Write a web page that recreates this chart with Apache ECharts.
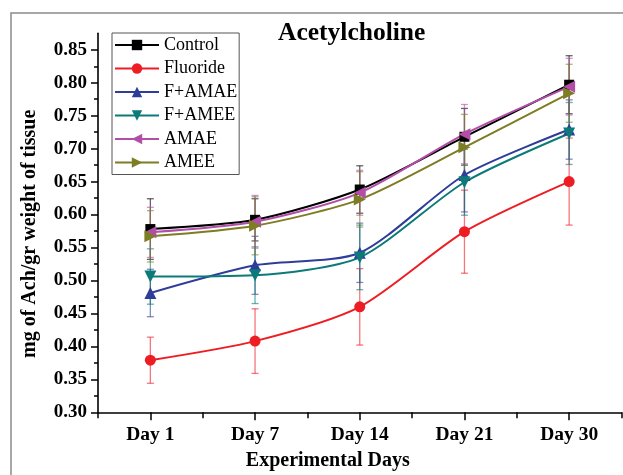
<!DOCTYPE html>
<html>
<head>
<meta charset="utf-8">
<script src="https://cdn.jsdelivr.net/npm/echarts@6/dist/echarts.min.js"></script>
<style>
html,body{margin:0;padding:0;background:#fff;}
#chart{width:623px;height:475px;}
</style>
</head>
<body>
<div id="chart"></div>
<script>
// ---- data ----
const categories = ['Day 1', 'Day 7', 'Day 14', 'Day 21', 'Day 30'];
const yTicks = [0.30, 0.35, 0.40, 0.45, 0.50, 0.55, 0.60, 0.65, 0.70, 0.75, 0.80, 0.85];
const seriesNames = ['Control', 'Fluoride', 'F+AMAE', 'F+AMEE', 'AMAE', 'AMEE'];
const control     = [0.578, 0.592, 0.638, 0.718, 0.797];
const controlErr  = [0.046, 0.032, 0.036, 0.043, 0.044];
const fluoride    = [0.379, 0.408, 0.460, 0.574, 0.650];
const fluorideErr = [0.035, 0.049, 0.058, 0.063, 0.066];
const fAmae       = [0.481, 0.523, 0.542, 0.660, 0.729];
const fAmaeErr    = [0.036, 0.044, 0.045, 0.056, 0.045];
const fAmee       = [0.506, 0.508, 0.535, 0.649, 0.723];
const fAmeeErr    = [0.042, 0.043, 0.049, 0.050, 0.047];
const amae        = [0.573, 0.589, 0.633, 0.722, 0.794];
const amaeErr     = [0.038, 0.040, 0.034, 0.045, 0.043];
const amee        = [0.567, 0.583, 0.623, 0.702, 0.784];
const ameeErr     = [0.039, 0.044, 0.042, 0.050, 0.044];

// ---- styling ----
const values = [control, fluoride, fAmae, fAmee, amae, amee];
const errors = [controlErr, fluorideErr, fAmaeErr, fAmeeErr, amaeErr, ameeErr];
const colors = ['#000000', '#EE1D23', '#2E3D98', '#0B7A78', '#B24EA8', '#7D7D24'];
const symbols = [
  'rect',
  'circle',
  'path://M5,0L10,10L0,10Z',
  'path://M0,0L10,0L5,10Z',
  'path://M0,5L10,0L10,10Z',
  'path://M0,0L10,5L0,10Z'
];
const symbolSizes = [10, 11, 12, 12, 12, 12];
const serif = '"Liberation Serif", "Times New Roman", serif';
const yMinorTicks = yTicks.slice(0, -1).map(v => +(v + 0.025).toFixed(3));

const chart = echarts.init(document.getElementById('chart'), null, {renderer: 'canvas'});

const series = [];
// error bars (drawn first, beneath)
values.forEach((vals, i) => {
  series.push({
    type: 'custom',
    name: seriesNames[i] + ' err',
    xAxisIndex: 0,
    yAxisIndex: 0,
    z: 1,
    silent: true,
    data: vals.map((v, k) => [k, v - errors[i][k], v + errors[i][k]]),
    renderItem: function (params, api) {
      const lo = api.coord([api.value(0), api.value(1)]);
      const hi = api.coord([api.value(0), api.value(2)]);
      const w = 3.5;
      const style = {stroke: colors[i], lineWidth: 1.3, opacity: 0.6};
      return {
        type: 'group',
        children: [
          {type: 'line', shape: {x1: lo[0], y1: lo[1], x2: hi[0], y2: hi[1]}, style: style},
          {type: 'line', shape: {x1: lo[0] - w, y1: lo[1], x2: lo[0] + w, y2: lo[1]}, style: style},
          {type: 'line', shape: {x1: hi[0] - w, y1: hi[1], x2: hi[0] + w, y2: hi[1]}, style: style}
        ]
      };
    }
  });
});
values.forEach((vals, i) => {
  series.push({
    type: 'line',
    name: seriesNames[i],
    data: vals,
    smooth: 0.25,
    z: 3,
    symbol: symbols[i],
    symbolSize: symbolSizes[i],
    showAllSymbol: true,
    itemStyle: {color: colors[i]},
    lineStyle: {color: colors[i], width: 2},
    emphasis: {disabled: true}
  });
});

chart.setOption({
  animation: false,
  backgroundColor: '#ffffff',
  title: {
    text: 'Acetylcholine',
    left: 278,
    top: 20,
    padding: 0,
    textStyle: {fontFamily: serif, fontSize: 25.5, fontWeight: 'bold', color: '#000'}
  },
  legend: {
    data: seriesNames,
    orient: 'vertical',
    left: 112,
    top: 33,
    padding: [3, 2, 3, 2],
    itemGap: 5.5,
    itemWidth: 44,
    itemHeight: 13,
    borderColor: '#555',
    borderWidth: 1,
    textStyle: {fontFamily: serif, fontSize: 18, color: '#000', lineHeight: 18}
  },
  grid: {
    left: 98,
    right: 1.5,
    top: 33.3,
    bottom: 62.7,
    containLabel: false,
    outerBoundsMode: 'none'
  },
  xAxis: [
    {
      type: 'category',
      data: categories,
      boundaryGap: true,
      name: 'Experimental Days',
      nameLocation: 'middle',
      nameGap: 39,
      nameTextStyle: {fontFamily: serif, fontSize: 20, fontWeight: 'bold', color: '#000', padding: [0, 64, 0, 0]},
      axisLine: {show: true, lineStyle: {color: '#000', width: 1.6}},
      axisTick: {show: true, alignWithLabel: true, inside: false, length: 8, lineStyle: {color: '#000', width: 1.5}},
      axisLabel: {fontFamily: serif, fontSize: 19.5, fontWeight: 'bold', color: '#000', margin: 13},
      splitLine: {show: false}
    },
    {
      type: 'category',
      data: categories,
      boundaryGap: true,
      position: 'bottom',
      axisLine: {show: false},
      axisTick: {show: true, alignWithLabel: false, length: 6, lineStyle: {color: '#000', width: 1.5}},
      axisLabel: {show: false},
      splitLine: {show: false}
    }
  ],
  yAxis: [
    {
      type: 'value',
      min: 0.30,
      max: 0.875,
      name: 'mg of Ach/gr weight of tissue',
      nameLocation: 'middle',
      nameRotate: 90,
      nameGap: 58,
      nameTextStyle: {fontFamily: serif, fontSize: 20, fontWeight: 'bold', color: '#000', padding: [0, 22, 0, 0]},
      axisLine: {show: true, lineStyle: {color: '#000', width: 1.6}},
      axisTick: {show: true, length: 7, customValues: yTicks, lineStyle: {color: '#000', width: 1.5}},
      axisLabel: {
        customValues: yTicks,
        fontFamily: serif, fontSize: 19, fontWeight: 'bold', color: '#000', margin: 11,
        formatter: v => Number(v).toFixed(2)
      },
      splitLine: {show: false}
    },
    {
      type: 'value',
      min: 0.30,
      max: 0.875,
      position: 'left',
      axisLine: {show: false},
      axisTick: {show: true, length: 4, customValues: yMinorTicks, lineStyle: {color: '#000', width: 1.5}},
      axisLabel: {show: false},
      splitLine: {show: false}
    }
  ],
  graphic: [
    {
      type: 'polyline',
      silent: true,
      z: -1,
      shape: {points: [[11, 475], [11, 13], [623, 13]]},
      style: {stroke: '#8a8a8a', lineWidth: 1.5, fill: null}
    }
  ],
  series: series
});
</script>
</body>
</html>
